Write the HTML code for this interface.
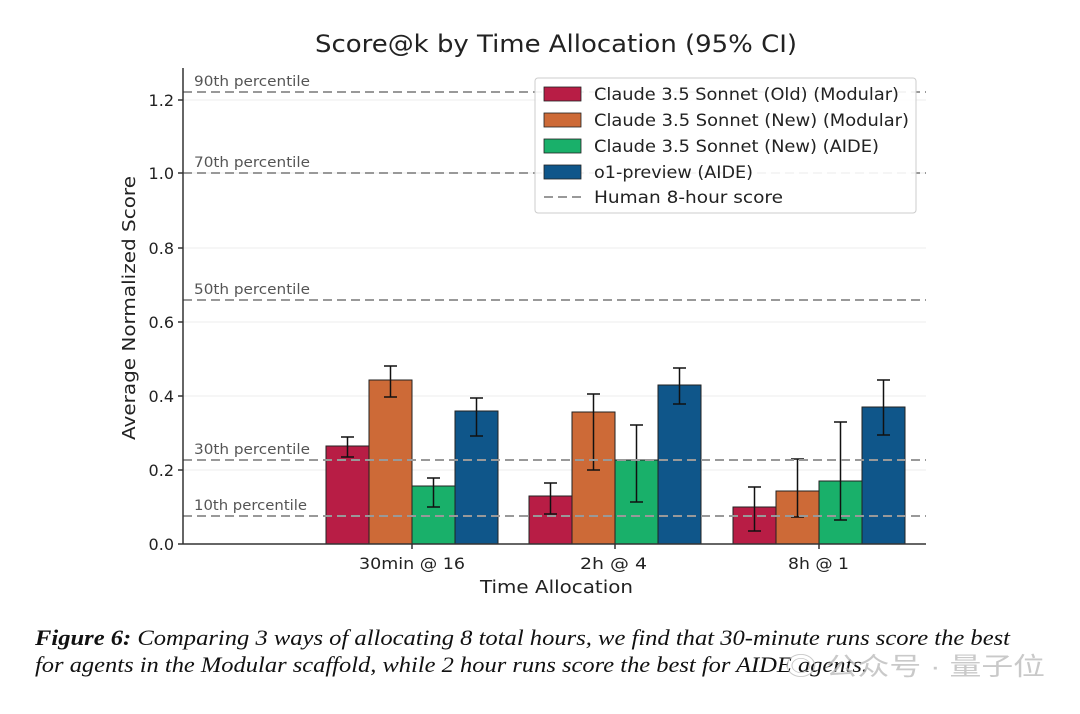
<!DOCTYPE html>
<html><head><meta charset="utf-8"><style>
body{margin:0;background:#fff;width:1080px;height:709px;overflow:hidden}
svg text{font-family:"DejaVu Sans","Liberation Sans",sans-serif}
</style></head><body>
<svg width="1080" height="709" viewBox="0 0 1080 709">
<rect width="1080" height="709" fill="#fff"/>
<text x="315" y="52" font-size="24" fill="#222" textLength="482" lengthAdjust="spacingAndGlyphs">Score@k by Time Allocation (95% CI)</text>
<g stroke="#eee" stroke-width="1">
<line x1="183" x2="926" y1="470" y2="470"/><line x1="183" x2="926" y1="396" y2="396"/>
<line x1="183" x2="926" y1="322" y2="322"/><line x1="183" x2="926" y1="248" y2="248"/>
<line x1="183" x2="926" y1="173" y2="173"/><line x1="183" x2="926" y1="100" y2="100"/>
</g>
<g stroke="#222" stroke-width="1">
<rect x="326" y="446" width="43" height="98" fill="#b81d45"/>
<rect x="369" y="380" width="43" height="164" fill="#cd6a37"/>
<rect x="412" y="486" width="43" height="58" fill="#19b06a"/>
<rect x="455" y="411" width="43" height="133" fill="#0f568a"/>
<rect x="529" y="496" width="43" height="48" fill="#b81d45"/>
<rect x="572" y="412" width="43" height="132" fill="#cd6a37"/>
<rect x="615" y="460" width="43" height="84" fill="#19b06a"/>
<rect x="658" y="385" width="43" height="159" fill="#0f568a"/>
<rect x="733" y="507" width="43" height="37" fill="#b81d45"/>
<rect x="776" y="491" width="43" height="53" fill="#cd6a37"/>
<rect x="819" y="481" width="43" height="63" fill="#19b06a"/>
<rect x="862" y="407" width="43" height="137" fill="#0f568a"/>
</g>
<g stroke="#111" stroke-width="1.5" fill="none">
<path d="M347.5 437V457M341 437h13M341 457h13"/>
<path d="M390.5 366V397M384 366h13M384 397h13"/>
<path d="M433.5 478V507M427 478h13M427 507h13"/>
<path d="M476.5 398V436M470 398h13M470 436h13"/>
<path d="M550.5 483V514M544 483h13M544 514h13"/>
<path d="M593.5 394V470M587 394h13M587 470h13"/>
<path d="M636.5 425V502M630 425h13M630 502h13"/>
<path d="M679.5 368V404M673 368h13M673 404h13"/>
<path d="M754.5 487V531M748 487h13M748 531h13"/>
<path d="M797.5 459V517M791 459h13M791 517h13"/>
<path d="M840.5 422V520M834 422h13M834 520h13"/>
<path d="M883.5 380V435M877 380h13M877 435h13"/>
</g>
<g stroke="#999" stroke-width="2" stroke-dasharray="9,5">
<line x1="183" x2="926" y1="92" y2="92"/><line x1="183" x2="926" y1="173" y2="173"/>
<line x1="183" x2="926" y1="300" y2="300"/><line x1="183" x2="926" y1="460" y2="460"/>
<line x1="183" x2="926" y1="516" y2="516"/>
</g>
<g font-size="14" fill="#555">
<text x="194" y="86" textLength="116" lengthAdjust="spacingAndGlyphs">90th percentile</text>
<text x="194" y="167" textLength="116" lengthAdjust="spacingAndGlyphs">70th percentile</text>
<text x="194" y="294" textLength="116" lengthAdjust="spacingAndGlyphs">50th percentile</text>
<text x="194" y="454" textLength="116" lengthAdjust="spacingAndGlyphs">30th percentile</text>
<text x="194" y="510" textLength="113" lengthAdjust="spacingAndGlyphs">10th percentile</text>
</g>
<line x1="183" x2="183" y1="68" y2="544" stroke="#333" stroke-width="1.5"/>
<line x1="183" x2="926" y1="544" y2="544" stroke="#333" stroke-width="1.5"/>
<g stroke="#333" stroke-width="1.5">
<line x1="178" x2="183" y1="544" y2="544"/><line x1="178" x2="183" y1="470" y2="470"/>
<line x1="178" x2="183" y1="396" y2="396"/><line x1="178" x2="183" y1="322" y2="322"/>
<line x1="178" x2="183" y1="248" y2="248"/><line x1="178" x2="183" y1="173" y2="173"/>
<line x1="178" x2="183" y1="100" y2="100"/>
<line x1="412" x2="412" y1="544" y2="549"/><line x1="615" x2="615" y1="544" y2="549"/><line x1="819" x2="819" y1="544" y2="549"/>
</g>
<g font-size="16" fill="#222" text-anchor="end">
<text x="174" y="550">0.0</text><text x="174" y="476">0.2</text><text x="174" y="402">0.4</text>
<text x="174" y="328">0.6</text><text x="174" y="254">0.8</text><text x="174" y="179">1.0</text><text x="174" y="106">1.2</text>
</g>
<g font-size="16" fill="#222">
<text x="359" y="569" textLength="106" lengthAdjust="spacingAndGlyphs">30min @ 16</text>
<text x="580" y="569" textLength="67" lengthAdjust="spacingAndGlyphs">2h @ 4</text>
<text x="788" y="569" textLength="61" lengthAdjust="spacingAndGlyphs">8h @ 1</text>
</g>
<text x="480" y="593" font-size="18" fill="#222" textLength="153" lengthAdjust="spacingAndGlyphs">Time Allocation</text>
<text transform="translate(135,440) rotate(-90)" font-size="18" fill="#222" textLength="264" lengthAdjust="spacingAndGlyphs">Average Normalized Score</text>
<rect x="535" y="78" width="381" height="135" rx="3" fill="#fff" fill-opacity="0.9" stroke="#ccc"/>
<g stroke="#222" stroke-width="0.8">
<rect x="544" y="87" width="37" height="14" fill="#b81d45"/>
<rect x="544" y="113" width="37" height="14" fill="#cd6a37"/>
<rect x="544" y="139" width="37" height="14" fill="#19b06a"/>
<rect x="544" y="165" width="37" height="14" fill="#0f568a"/>
</g>
<line x1="544" x2="581" y1="197" y2="197" stroke="#999" stroke-width="2" stroke-dasharray="9,5"/>
<g font-size="17" fill="#222">
<text x="594" y="100" textLength="305" lengthAdjust="spacingAndGlyphs">Claude 3.5 Sonnet (Old) (Modular)</text>
<text x="594" y="126" textLength="315" lengthAdjust="spacingAndGlyphs">Claude 3.5 Sonnet (New) (Modular)</text>
<text x="594" y="152" textLength="285" lengthAdjust="spacingAndGlyphs">Claude 3.5 Sonnet (New) (AIDE)</text>
<text x="594" y="178" textLength="159" lengthAdjust="spacingAndGlyphs">o1-preview (AIDE)</text>
<text x="594" y="203" textLength="189" lengthAdjust="spacingAndGlyphs">Human 8-hour score</text>
</g>
<g font-size="22" font-style="italic" fill="#111">
<text x="35" y="645" style="font-family:'Liberation Serif',serif" textLength="975" lengthAdjust="spacingAndGlyphs"><tspan font-weight="bold">Figure 6:</tspan> Comparing 3 ways of allocating 8 total hours, we find that 30-minute runs score the best</text>
<text x="35" y="672" style="font-family:'Liberation Serif',serif" textLength="833" lengthAdjust="spacingAndGlyphs">for agents in the Modular scaffold, while 2 hour runs score the best for AIDE agents.</text>
</g>
<text x="785" y="675" font-size="25" fill="#bbb" fill-opacity="0.8" style="font-family:'Liberation Sans','Noto Sans CJK SC',sans-serif" textLength="260" lengthAdjust="spacingAndGlyphs">◎ 公众号 · 量子位</text>
</svg>
</body></html>
